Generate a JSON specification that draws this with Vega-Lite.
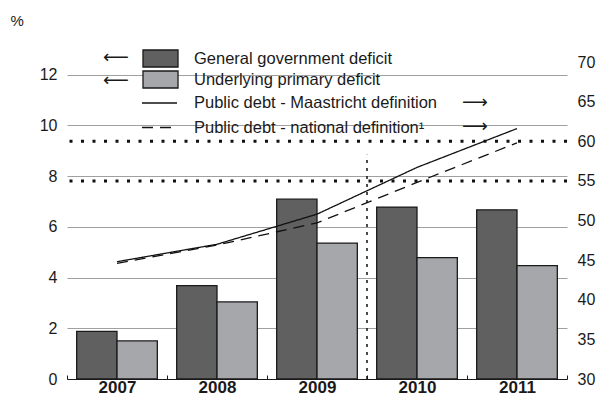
{
  "$schema": "https://vega.github.io/schema/vega-lite/v6.json",
  "width": 500,
  "height": 317,
  "autosize": "none",
  "padding": {"left": 67, "top": 62, "right": 31, "bottom": 18},
  "background": "white",
  "config": {
    "view": {"stroke": null},
    "font": "Liberation Sans",
    "axis": {"labelColor": "#1a1a1a", "labelFont": "Liberation Sans"},
    "legend": {"labelFont": "Liberation Sans", "labelColor": "#1a1a1a"}
  },
  "datasets": {
    "bars": [
      {"year": "2007", "series": "General government deficit", "value": 1.88},
      {"year": "2007", "series": "Underlying primary deficit", "value": 1.5},
      {"year": "2008", "series": "General government deficit", "value": 3.68},
      {"year": "2008", "series": "Underlying primary deficit", "value": 3.04},
      {"year": "2009", "series": "General government deficit", "value": 7.09},
      {"year": "2009", "series": "Underlying primary deficit", "value": 5.36},
      {"year": "2010", "series": "General government deficit", "value": 6.78},
      {"year": "2010", "series": "Underlying primary deficit", "value": 4.79},
      {"year": "2011", "series": "General government deficit", "value": 6.67},
      {"year": "2011", "series": "Underlying primary deficit", "value": 4.47}
    ],
    "debt": [
      {"year": "2007", "series": "Public debt - Maastricht definition", "value": 44.8},
      {"year": "2008", "series": "Public debt - Maastricht definition", "value": 47.0},
      {"year": "2009", "series": "Public debt - Maastricht definition", "value": 50.8},
      {"year": "2010", "series": "Public debt - Maastricht definition", "value": 56.7},
      {"year": "2011", "series": "Public debt - Maastricht definition", "value": 61.6},
      {"year": "2007", "series": "Public debt - national definition¹", "value": 44.6},
      {"year": "2008", "series": "Public debt - national definition¹", "value": 46.9},
      {"year": "2009", "series": "Public debt - national definition¹", "value": 49.7},
      {"year": "2010", "series": "Public debt - national definition¹", "value": 54.8},
      {"year": "2011", "series": "Public debt - national definition¹", "value": 59.8}
    ],
    "thresholds": [{"level": 60}, {"level": 55}],
    "marker": [{"year": "2010", "lo": 30, "hi": 58.3}]
  },
  "encoding": {
    "x": {
      "field": "year",
      "type": "ordinal",
      "scale": {"domain": ["2007", "2008", "2009", "2010", "2011"], "paddingInner": 0, "paddingOuter": 0},
      "axis": {
        "title": null,
        "labelAngle": 0,
        "labelFontWeight": "bold",
        "labelFontSize": 17,
        "labelPadding": 4,
        "domainColor": "#1a1a1a",
        "domainWidth": 1,
        "ticks": true,
        "tickBand": "extent",
        "tickSize": -4,
        "tickColor": "#1a1a1a",
        "grid": false
      }
    }
  },
  "layer": [
    {
      "data": {"name": "bars"},
      "mark": {"type": "bar", "stroke": "#1a1a1a", "strokeWidth": 1.3},
      "encoding": {
        "xOffset": {
          "field": "series",
          "type": "nominal",
          "sort": ["General government deficit", "Underlying primary deficit"],
          "scale": {"paddingInner": 0, "paddingOuter": 0.24}
        },
        "y": {
          "field": "value",
          "type": "quantitative",
          "scale": {"domain": [0, 12.5], "nice": false},
          "axis": {
            "orient": "left",
            "values": [0, 2, 4, 6, 8, 10, 12],
            "grid": true,
            "gridColor": "#a0a0a0",
            "gridWidth": 1,
            "domain": false,
            "ticks": false,
            "labelPadding": 10,
            "labelFontSize": 16,
            "title": "%",
            "titleAngle": 0,
            "titleX": -57,
            "titleY": -37,
            "titleAlign": "left",
            "titleBaseline": "alphabetic",
            "titleFontSize": 15,
            "titleFontWeight": "normal",
            "titleColor": "#1a1a1a"
          }
        },
        "fill": {
          "field": "series",
          "type": "nominal",
          "scale": {
            "domain": ["General government deficit", "Underlying primary deficit"],
            "range": ["#606060", "#a6a7aa"]
          },
          "legend": {
            "orient": "none",
            "legendX": 36,
            "legendY": -13,
            "padding": 0,
            "title": ["⟵", "⟵"],
            "titleOrient": "left",
            "titleAnchor": "start",
            "titleFont": "DejaVu Sans",
            "titleFontSize": 18,
            "titleFontWeight": "normal",
            "titleLineHeight": 22.5,
            "titleBaseline": "top",
            "titlePadding": 22,
            "titleColor": "#1a1a1a",
            "symbolType": "M-2.06,-1H2.06V1H-2.06Z",
            "symbolSize": 289,
            "symbolStrokeColor": "#1a1a1a",
            "symbolStrokeWidth": 1.3,
            "symbolOpacity": 1,
            "labelFontSize": 16.5,
            "labelOffset": 24,
            "labelLimit": 400,
            "rowPadding": -2.5
          }
        }
      }
    },
    {
      "layer": [
        {
          "data": {"name": "thresholds"},
          "mark": {"type": "rule", "color": "#111111", "strokeWidth": 3, "strokeDash": [3, 8.5]},
          "encoding": {
            "x": null,
            "y": {"field": "level", "type": "quantitative"}
          }
        },
        {
          "data": {"name": "marker"},
          "mark": {"type": "rule", "color": "#111111", "strokeWidth": 1.5, "strokeDash": [3, 5]},
          "encoding": {
            "x": {"field": "year", "type": "ordinal", "bandPosition": 0},
            "y": {"field": "lo", "type": "quantitative"},
            "y2": {"field": "hi"}
          }
        },
        {
          "data": {"name": "debt"},
          "mark": {"type": "line", "color": "#111111", "strokeWidth": 1.3},
          "encoding": {
            "y": {"field": "value", "type": "quantitative"},
            "strokeDash": {
              "field": "series",
              "type": "nominal",
              "scale": {
                "domain": ["Public debt - Maastricht definition", "Public debt - national definition¹"],
                "range": [[1, 0], [11, 7]]
              },
              "legend": {
                "orient": "none",
                "legendX": 83,
                "legendY": 31.5,
                "padding": 0,
                "title": ["⟶", "⟶"],
                "titleOrient": "right",
                "titleAnchor": "start",
                "titleFont": "DejaVu Sans",
                "titleFontSize": 18,
                "titleFontWeight": "normal",
                "titleLineHeight": 24.5,
                "titleBaseline": "top",
                "titlePadding": 25,
                "titleColor": "#1a1a1a",
                "symbolType": "M-2.06,0H2.06",
                "symbolSize": 289,
                "symbolStrokeColor": "#111111",
                "symbolStrokeWidth": 1.3,
                "labelFontSize": 16.5,
                "labelOffset": 25,
                "labelLimit": 400,
                "rowPadding": 6.5
              }
            }
          }
        }
      ],
      "encoding": {
        "y": {
          "scale": {"domain": [30, 70], "nice": false, "zero": false},
          "axis": {
            "orient": "right",
            "values": [30, 35, 40, 45, 50, 55, 60, 65, 70],
            "grid": false,
            "domain": false,
            "ticks": false,
            "labelPadding": 10,
            "labelFontSize": 16,
            "title": null
          }
        }
      }
    }
  ],
  "resolve": {"scale": {"y": "independent"}}
}
